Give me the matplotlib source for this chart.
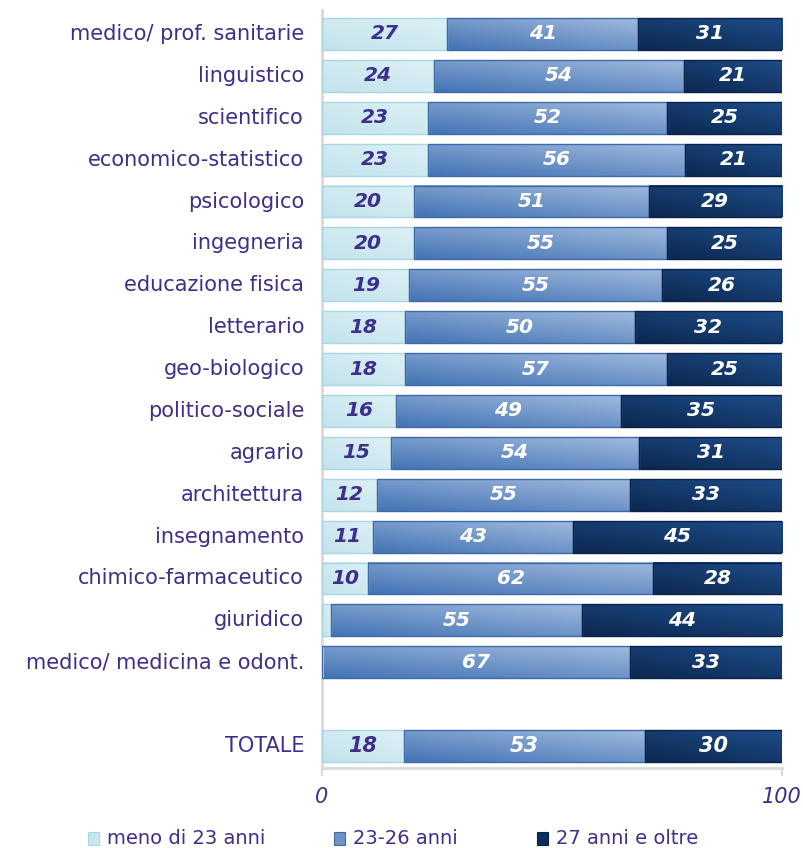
import numpy as np
import matplotlib.pyplot as plt
from matplotlib.colors import LinearSegmentedColormap
from matplotlib.patches import Rectangle

categories = ["medico/ prof. sanitarie", "linguistico", "scientifico",
              "economico-statistico", "psicologico", "ingegneria",
              "educazione fisica", "letterario", "geo-biologico",
              "politico-sociale", "agrario", "architettura", "insegnamento",
              "chimico-farmaceutico", "giuridico", "medico/ medicina e odont."]
under23 = [27, 24, 23, 23, 20, 20, 19, 18, 18, 16, 15, 12, 11, 10, 2, 0]
age23_26 = [41, 54, 52, 56, 51, 55, 55, 50, 57, 49, 54, 55, 43, 62, 55, 67]
over27 = [31, 21, 25, 21, 29, 25, 26, 32, 25, 35, 31, 33, 45, 28, 44, 33]
total_label = "TOTALE"
total_values = [18, 53, 30]
series_names = ["meno di 23 anni", "23-26 anni", "27 anni e oltre"]

purple = "#3d2f8a"
cmaps = [
    LinearSegmentedColormap.from_list("light", ["#c3e3ec", "#dcf0f5"]),
    LinearSegmentedColormap.from_list("mid", ["#4474b5", "#9fb9dd"]),
    LinearSegmentedColormap.from_list("dark", ["#0c2850", "#1d4c88"]),
]
edge_cols = ["#a9d6e3", "#3f6aa8", "#0a2248"]
text_cols = [purple, "white", "white"]
legend_cols = ["#c8e6ee", "#6f93c8", "#0f2d5a"]
narrow = "Liberation Sans Narrow"

fig = plt.figure(figsize=(8.04, 8.48), dpi=100)
ax = fig.add_axes([322 / 804, 1 - 768 / 848, 460 / 804, 758 / 848])

rows = [(c, [a, b, d], i) for i, (c, a, b, d) in
        enumerate(zip(categories, under23, age23_26, over27))]
rows.append((total_label, total_values, len(categories) + 1))

h = 0.76
uu, vv = np.meshgrid(np.linspace(0, 1, 60), np.linspace(0, 1, 20))
grad = 0.55 * vv + 0.45 * uu  # darker bottom-left, lighter top-right

for name, vals, y in rows:
    is_total = name == total_label
    pct = np.array(vals, float) / sum(vals) * 100
    left = 0
    for k, w in enumerate(pct):
        if w <= 0:
            continue
        ax.imshow(grad, extent=[left, left + w, y + h / 2, y - h / 2],
                  origin="lower", cmap=cmaps[k], aspect="auto", zorder=2,
                  interpolation="bilinear")
        ax.add_patch(Rectangle((left, y - h / 2), w, h, fill=False,
                               edgecolor=edge_cols[k], lw=1, zorder=3))
        if vals[k] >= 5:
            ax.text(left + w / 2, y, str(vals[k]), ha="center", va="center",
                    fontsize=15 if is_total else 14.5, fontweight="bold",
                    fontstyle="italic", color=text_cols[k], zorder=4,
                    fontfamily=narrow if is_total else "DejaVu Sans")
        left += w
    ax.text(-3.9, y, name, ha="right", va="center",
            fontsize=15, color=purple,
            fontfamily=narrow if is_total else "DejaVu Sans")

ax.set_xlim(0, 100)
ax.set_ylim(17.525, -0.573)
ax.set_yticks([])
ax.set_xticks([0, 100])
ax.set_xticklabels(["0", "100"], fontsize=15, fontstyle="italic",
                   color=purple, fontfamily=narrow)
ax.tick_params(axis="x", length=6, width=1.5, color="#d9d9d9", pad=8)
for s in ["top", "right"]:
    ax.spines[s].set_visible(False)
for s in ["left", "bottom"]:
    ax.spines[s].set_color("#d9d9d9")
    ax.spines[s].set_linewidth(2)

# legend
leg_x = [88, 334, 537]
for x, name, col, ec in zip(leg_x, series_names, legend_cols, edge_cols):
    fig.patches.append(Rectangle((x / 804, 1 - 845 / 848), 11 / 804, 13 / 848,
                                 transform=fig.transFigure, facecolor=col,
                                 edgecolor=ec, lw=0.8))
    fig.text((x + 19) / 804, 1 - 838 / 848, name, ha="left", va="center",
             fontsize=14, color=purple, fontfamily=narrow)

fig.savefig("out.png", dpi=100)
